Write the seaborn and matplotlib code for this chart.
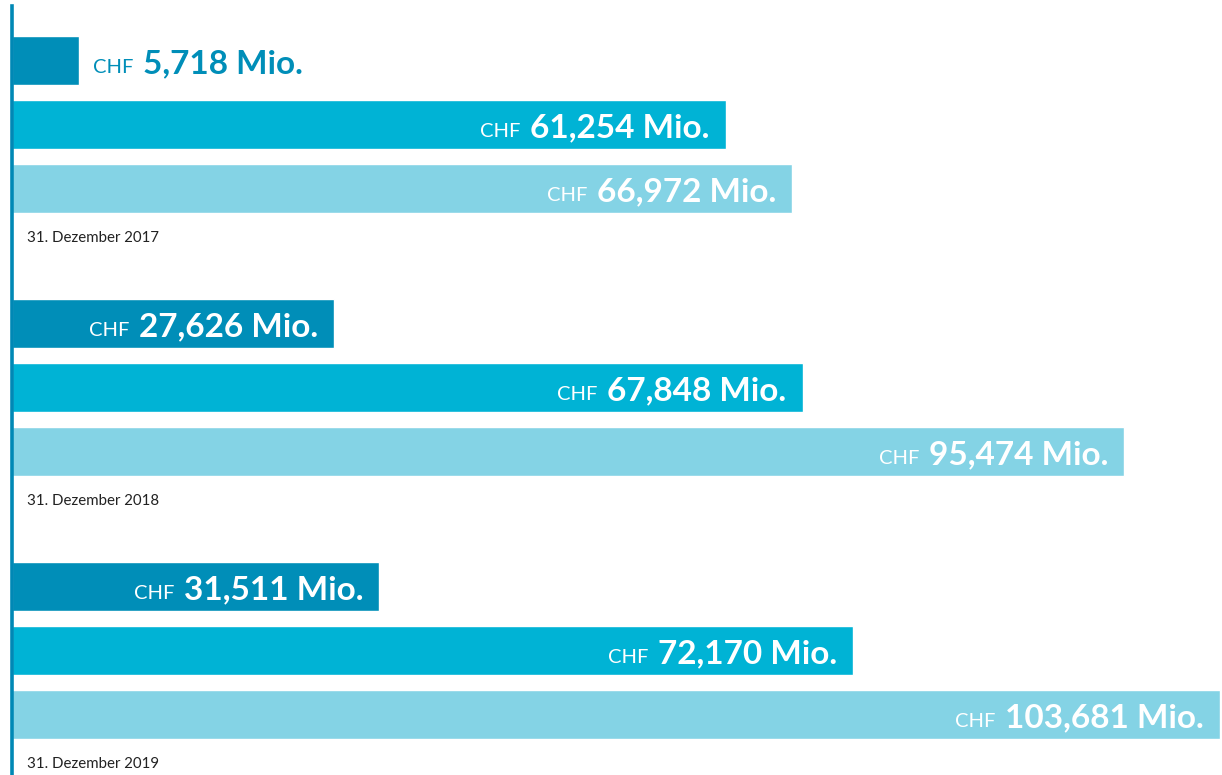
import matplotlib
matplotlib.use("Agg")
import matplotlib.pyplot as plt
import matplotlib.transforms as mtransforms
import seaborn as sns
import pandas as pd

# ---- data ----
dates = ["31. Dezember 2017", "31. Dezember 2018", "31. Dezember 2019"]
series = ["Teil A", "Teil B", "Total"]
values_a = [5718, 27626, 31511]
values_b = [61254, 67848, 72170]
values_total = [66972, 95474, 103681]
labels_a = ["5,718", "27,626", "31,511"]
labels_b = ["61,254", "67,848", "72,170"]
labels_total = ["66,972", "95,474", "103,681"]
colors = ["#008EB8", "#00B3D5", "#84D3E5"]

rows = []
for s, vals, labs in zip(series, [values_a, values_b, values_total],
                         [labels_a, labels_b, labels_total]):
    for d, v, l in zip(dates, vals, labs):
        rows.append({"date": d, "series": s, "value": v, "label": l})
df = pd.DataFrame(rows)

sns.set_theme(style="white")
plt.rcParams["font.family"] = ["Lato", "DejaVu Sans"]

fig = plt.figure(figsize=(12.22, 7.75), dpi=100)
ax = fig.add_axes([12 / 1222, 0, 1 - 12 / 1222, 1])

sns.barplot(data=df, y="date", x="value", hue="series", order=dates,
            hue_order=series, palette=colors, orient="h", width=0.73,
            gap=0.234, legend=False, ax=ax, saturation=1, errorbar=None)

ax.set_xlim(0, 103850)
ax.set_ylim(2.473, -0.473)
ax.set_xlabel("")
ax.set_ylabel("")
ax.set_xticks([])
ax.set_yticks([])
for sp in ["top", "right", "bottom"]:
    ax.spines[sp].set_visible(False)
ax.spines["left"].set_color("#0088B5")
ax.spines["left"].set_linewidth(2.6)
ax.spines["left"].set_bounds(2.473, -0.45)
ax.spines["left"].set_zorder(5)

fig.canvas.draw()
renderer = fig.canvas.get_renderer()
BASE = -9  # baseline offset (points) below bar centre

for ci, (cont, s) in enumerate(zip(ax.containers, series)):
    sub = df[df["series"] == s].set_index("date").loc[dates]
    for bar, lab in zip(cont.patches, sub["label"]):
        w = bar.get_width()
        yc = bar.get_y() + bar.get_height() / 2
        inside = w > 20000
        inv = ax.transData.inverted()
        if inside:
            t = ax.annotate(f"{lab} Mio.", xy=(w, yc), xytext=(-11.5, BASE),
                            textcoords="offset points", ha="right", va="baseline",
                            fontsize=24, fontweight="bold", color="white",
                            annotation_clip=False)
            t.draw(renderer)
            bb = t.get_window_extent(renderer)
            xl = inv.transform((bb.x0, bb.y0))[0]
            ax.annotate("CHF", xy=(xl, yc), xytext=(-7, BASE), textcoords="offset points",
                        ha="right", va="baseline", fontsize=14.5, color="white",
                        annotation_clip=False)
        else:
            c = ax.annotate("CHF", xy=(w, yc), xytext=(10, BASE), textcoords="offset points",
                            ha="left", va="baseline", fontsize=14.5, color=colors[0])
            c.draw(renderer)
            bb = c.get_window_extent(renderer)
            xr = inv.transform((bb.x1, bb.y0))[0]
            ax.annotate(f"{lab} Mio.", xy=(xr, yc), xytext=(7, BASE), textcoords="offset points",
                        ha="left", va="baseline", fontsize=24, fontweight="bold",
                        color=colors[0])

trans = mtransforms.blended_transform_factory(ax.transAxes, ax.transData)
for i, d in enumerate(dates):
    ax.text(15 / 1210, i + 0.432, d, transform=trans, ha="left", va="center",
            fontsize=10.8, color="#222222")

fig.savefig("out.png", dpi=100)
